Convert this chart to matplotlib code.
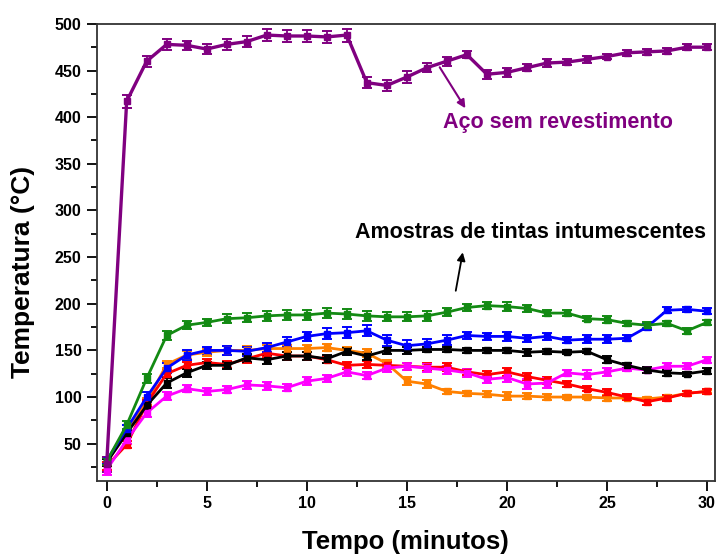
import numpy as np
import matplotlib
matplotlib.use("Agg")
from matplotlib import pyplot as plt
from matplotlib.ticker import MultipleLocator

plt.rcParams['font.family'] = ['Liberation Sans', 'DejaVu Sans']
plt.rcParams['font.weight'] = 'bold'

tempo = list(range(31))

aco = [28, 417, 460, 478, 477, 473, 478, 481, 488, 487, 487, 486, 488, 437, 434, 443,
       453, 460, 467, 446, 448, 453, 458, 459, 462, 465, 469, 470, 471, 475, 475]
aco_err = [8, 7, 6, 6, 5, 5, 6, 6, 6, 6, 6, 6, 7, 6, 6, 6,
           5, 5, 4, 5, 5, 4, 4, 3, 4, 3, 3, 3, 3, 3, 3]

verde = [31, 70, 120, 166, 177, 180, 184, 185, 187, 188, 188, 190, 189, 187, 186, 186,
         187, 191, 196, 198, 197, 195, 190, 190, 184, 183, 179, 177, 179, 171, 180]
verde_err = [4, 4, 5, 5, 4, 4, 5, 5, 5, 5, 5, 5, 5, 5, 5, 5,
             5, 4, 4, 4, 5, 4, 3, 3, 3, 4, 3, 3, 3, 3, 3]

azul = [32, 66, 100, 131, 145, 150, 150, 149, 153, 159, 165, 168, 169, 171, 161, 155,
        157, 161, 166, 165, 165, 163, 165, 161, 162, 162, 163, 175, 193, 194, 192]
azul_err = [4, 4, 5, 5, 5, 4, 5, 5, 5, 5, 5, 6, 6, 6, 6, 6,
            5, 5, 4, 4, 5, 4, 4, 3, 4, 4, 3, 3, 3, 3, 3]

laranja = [30, 62, 95, 135, 145, 148, 150, 150, 152, 152, 152, 153, 150, 147, 136, 117,
           114, 106, 104, 103, 101, 101, 100, 100, 100, 99, 99, 98, 100, 104, 106]
laranja_err = [4, 4, 4, 4, 4, 4, 5, 5, 4, 4, 4, 4, 4, 4, 4, 4,
               4, 3, 3, 3, 4, 3, 3, 2, 2, 3, 2, 2, 2, 2, 2]

vermelho = [26, 49, 93, 125, 134, 137, 135, 141, 147, 144, 144, 140, 134, 135, 134, 133,
            132, 132, 127, 124, 127, 122, 118, 114, 109, 105, 100, 95, 99, 104, 106]
vermelho_err = [4, 4, 4, 4, 4, 4, 4, 4, 4, 4, 4, 4, 4, 4, 4, 4,
                4, 4, 3, 4, 4, 4, 4, 3, 3, 4, 3, 3, 3, 3, 3]

preto = [30, 61, 91, 115, 126, 134, 134, 142, 140, 144, 144, 141, 149, 144, 150, 150,
         151, 151, 150, 150, 150, 148, 149, 148, 149, 140, 134, 129, 126, 125, 128]
preto_err = [4, 4, 4, 5, 4, 4, 4, 4, 5, 4, 4, 4, 4, 4, 4, 4,
             3, 3, 3, 3, 3, 4, 3, 2, 2, 4, 3, 3, 3, 2, 3]

magenta = [22, 54, 83, 101, 109, 106, 108, 113, 112, 110, 117, 120, 127, 123, 131, 133,
           131, 129, 126, 119, 121, 114, 115, 126, 124, 127, 131, 129, 133, 133, 140]
magenta_err = [6, 4, 4, 4, 4, 4, 4, 4, 4, 4, 4, 4, 4, 4, 4, 4,
               4, 4, 4, 4, 5, 5, 5, 3, 5, 4, 3, 3, 3, 3, 3]

series = [
    (laranja, laranja_err, '#ff8000', 2.0),
    (vermelho, vermelho_err, '#ff0000', 2.0),
    (magenta, magenta_err, '#ff00ff', 2.0),
    (preto, preto_err, '#000000', 2.0),
    (azul, azul_err, '#0000ff', 2.0),
    (verde, verde_err, '#138a13', 2.0),
    (aco, aco_err, '#800080', 2.4),
]

fig = plt.figure(figsize=(7.16, 5.55), dpi=100)
ax = fig.add_axes([0.135, 0.1333, 0.8636, 0.8237])

for y, err, cor, lw in series:
    ax.errorbar(tempo, y, yerr=err, color=cor, lw=lw, marker='s', ms=4,
                capsize=3.5, elinewidth=1.3, capthick=1.4)

ax.set_xlim(-0.5, 30.4)
ax.set_ylim(10, 500)
ax.xaxis.set_major_locator(MultipleLocator(5))
ax.xaxis.set_minor_locator(MultipleLocator(2.5))
ax.yaxis.set_major_locator(MultipleLocator(50))
ax.yaxis.set_minor_locator(MultipleLocator(25))
ax.set_yticks(np.arange(50, 501, 50))
ax.tick_params(which='major', direction='out', length=7, width=1.3, labelsize=11.5, pad=4)
ax.tick_params(which='minor', direction='out', length=4, width=1.3)
for lab in ax.get_xticklabels() + ax.get_yticklabels():
    lab.set_fontweight('bold')
for sp in ax.spines.values():
    sp.set_linewidth(1.3)
    sp.set_color('#333333')

ax.set_xlabel('Tempo (minutos)', fontsize=18.5, fontweight='bold')
ax.set_ylabel('Temperatura (°C)', fontsize=19, fontweight='bold')
ax.xaxis.set_label_coords(0.5, -0.108)
ax.yaxis.set_label_coords(-0.1, 0.457)

ax.annotate('', xy=(18.0, 407), xytext=(16.57, 456),
            arrowprops=dict(arrowstyle='-|>', color='#800080', lw=1.5, mutation_scale=12))
ax.text(22.57, 394, 'Aço sem revestimento', color='#800080', fontsize=15.5,
        fontweight='bold', ha='center', va='center')

ax.annotate('', xy=(17.82, 258), xytext=(17.42, 211),
            arrowprops=dict(arrowstyle='-|>', color='black', lw=1.3, mutation_scale=12))
ax.text(21.19, 276, 'Amostras de tintas intumescentes', color='black', fontsize=15.5,
        fontweight='bold', ha='center', va='center')

plt.savefig('out.png', dpi=100)
